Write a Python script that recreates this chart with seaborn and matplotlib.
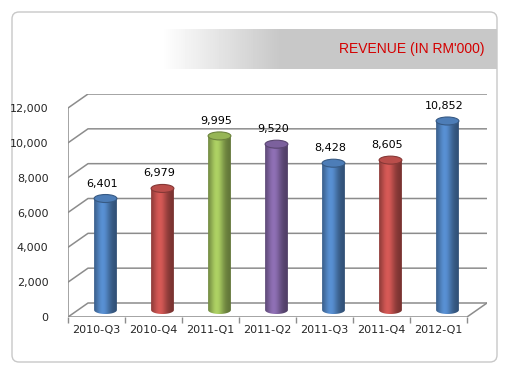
import numpy as np
import matplotlib.pyplot as plt
import seaborn as sns
from matplotlib.patches import Ellipse, FancyBboxPatch, PathPatch
from matplotlib.path import Path
from matplotlib.colors import to_rgb
from matplotlib.ticker import FixedLocator

# 数据
quarters = ['2010-Q3', '2010-Q4', '2011-Q1', '2011-Q2', '2011-Q3', '2011-Q4', '2012-Q1']
revenue = [6401, 6979, 9995, 9520, 8428, 8605, 10852]
bar_colors = ['#4f81bd', '#c0504d', '#9bbb59', '#8064a2', '#4f81bd', '#c0504d', '#4f81bd']
y_ticks = [0, 2000, 4000, 6000, 8000, 10000, 12000]
title = "REVENUE (IN RM'000)"

sns.set_theme(style='white')
plt.rcParams['font.family'] = ['DejaVu Sans']

W, H = 510, 375
fig = plt.figure(figsize=(W / 100, H / 100), dpi=100)

# 外框（圆角）
fig.patches.append(FancyBboxPatch((0.12, 0.13), 4.85, 3.50,
                                  boxstyle='round,pad=0,rounding_size=0.07',
                                  transform=fig.dpi_scale_trans,
                                  fc='none', ec='#c8c8c8', lw=1, zorder=-10))

# 标题灰色渐变条
band = fig.add_axes([161 / W, (375 - 69) / H, 336 / W, 40 / H])
g = np.clip(np.linspace(0, 1, 336) / 0.35, 0, 1)
grey = 1 - g * (1 - 0.785)
band.imshow(np.tile(grey, (2, 1)), cmap='gray', vmin=0, vmax=1, aspect='auto')
band.axis('off')
fig.text(485 / W, 1 - 49 / H, title, ha='right', va='center', color='#d40000',
         fontsize=10, family=['Liberation Sans', 'DejaVu Sans'])

# 主图
ax = fig.add_axes([68 / W, (375 - 317) / H, 419 / W, 223 / H])
sns.barplot(x=quarters, y=revenue, hue=quarters, palette=bar_colors, width=0.40,
            saturation=1, legend=False, ax=ax)

px_y = 12000 / 209.0   # 每像素对应数值
px_x = 1 / 57.0
dy = 7 * px_y          # 透视深度
dx = 20 * px_x
shift = 9 * px_x
xl = -0.5 - shift
xr = len(quarters) - 0.5 - shift + dx
grid_c = '#8c8c8c'

# 背景墙网格线与斜线
for v in y_ticks:
    ax.plot([xl, xl + dx, xr], [v - dy, v + dy, v + dy], color=grid_c, lw=1.1, zorder=0.5)
ax.plot([xl, xl], [-dy, y_ticks[-1] - dy], color=grid_c, lw=1.1, zorder=0.5)
ax.plot([xl, xr - dx, xr], [-dy, -dy, dy], color=grid_c, lw=1.1, zorder=0.5)

# 圆柱
eh = 8 * px_y
for bar in list(ax.patches):
    x0, w, h = bar.get_x(), bar.get_width(), bar.get_height()
    base = np.array(to_rgb(bar.get_facecolor()))
    cx = x0 + w / 2
    t = np.linspace(0, 1, 60)
    shade = 0.62 + 0.5 * np.exp(-((t - 0.38) / 0.32) ** 2)
    img = np.clip(base[None, :] * shade[:, None], 0, 1)[None, :, :]
    ang = np.linspace(0, -np.pi, 40)
    verts = [(x0, h), (x0 + w, h)] + [(cx + w / 2 * np.cos(a), eh / 2 * np.sin(a)) for a in ang] + [(x0, h)]
    codes = [Path.MOVETO] + [Path.LINETO] * (len(verts) - 2) + [Path.CLOSEPOLY]
    clip = PathPatch(Path(verts, codes), transform=ax.transData)
    im = ax.imshow(img, extent=(x0, x0 + w, -eh / 2, h), aspect='auto', origin='lower', zorder=2)
    im.set_clip_path(clip)
    bar.set_visible(False)
    ax.add_patch(Ellipse((cx, h), w, eh, fc=np.clip(base * 0.97, 0, 1),
                         ec=np.clip(base * 0.7, 0, 1), lw=0.8, zorder=3))
    ax.text(cx - 0.06, h + 15 * px_y, f'{int(h):,}', ha='center', va='center',
            fontsize=8, color='black', zorder=4)

ax.set_xlim(xl, xr)
ax.set_ylim(-dy, y_ticks[-1] + dy)
ax.set_aspect('auto')
for s in ax.spines.values():
    s.set_visible(False)

ax.set_xticks([i - shift for i in range(len(quarters))])
ax.set_xticklabels(quarters, fontsize=8)
ax.xaxis.set_minor_locator(FixedLocator([xl + k for k in range(len(quarters) + 1)]))
ax.tick_params(axis='x', which='major', length=0, pad=6)
ax.tick_params(axis='x', which='minor', length=4, color=grid_c, width=1, direction='out', bottom=True)
ax.set_yticks([v - dy for v in y_ticks])
ax.set_yticklabels([f'{v:,}' for v in y_ticks], fontsize=8)
ax.tick_params(axis='y', length=0, pad=14)
ax.set_xlabel('')
ax.set_ylabel('')
ax.patch.set_alpha(0)

fig.savefig('out.png', dpi=100)
